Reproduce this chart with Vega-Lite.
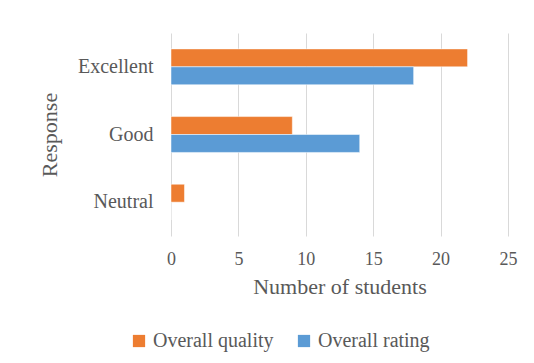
{
  "$schema": "https://vega.github.io/schema/vega-lite/v6.json",
  "width": 337,
  "height": 203,
  "autosize": {"type": "none"},
  "padding": {"left": 171, "top": 33, "right": 26, "bottom": 127},
  "background": "white",
  "config": {
    "font": "Liberation Serif, Times New Roman, DejaVu Serif, serif",
    "view": {"stroke": null},
    "axis": {"labelColor": "#595959", "titleColor": "#595959", "titleFontWeight": "normal", "labelFont": "Liberation Serif, Times New Roman, DejaVu Serif, serif", "titleFont": "Liberation Serif, Times New Roman, DejaVu Serif, serif"},
    "legend": {"labelColor": "#595959", "labelFont": "Liberation Serif, Times New Roman, DejaVu Serif, serif"}
  },
  "data": {
    "values": [
      {"Response": "Excellent", "Series": "Overall quality", "Count": 22},
      {"Response": "Excellent", "Series": "Overall rating", "Count": 18},
      {"Response": "Good", "Series": "Overall quality", "Count": 9},
      {"Response": "Good", "Series": "Overall rating", "Count": 14},
      {"Response": "Neutral", "Series": "Overall quality", "Count": 1},
      {"Response": "Neutral", "Series": "Overall rating", "Count": 0}
    ]
  },
  "mark": {"type": "bar", "stroke": "white", "strokeWidth": 0.5},
  "encoding": {
    "y": {
      "field": "Response", "type": "nominal",
      "sort": ["Excellent", "Good", "Neutral"],
      "scale": {"paddingInner": 0.47, "paddingOuter": 0.235},
      "axis": {"title": "Response", "titleFontSize": 22, "labelFontSize": 20, "ticks": false, "domain": false, "labelPadding": 18, "titlePadding": 16}
    },
    "yOffset": {"field": "Series", "type": "nominal", "sort": ["Overall quality", "Overall rating"]},
    "x": {
      "field": "Count", "type": "quantitative",
      "scale": {"domain": [0, 25]},
      "axis": {"title": "Number of students", "values": [0, 5, 10, 15, 20, 25], "labelFlush": false, "titleFontSize": 22, "labelFontSize": 18, "ticks": false, "domain": false, "grid": true, "gridColor": "#d9d9d9", "labelPadding": 14, "titlePadding": 8}
    },
    "color": {
      "field": "Series", "type": "nominal",
      "scale": {"domain": ["Overall quality", "Overall rating"], "range": ["#ED7D31", "#5B9BD5"]},
      "legend": {"title": null, "orient": "none", "direction": "horizontal", "legendX": -42, "legendY": 298, "symbolType": "square", "symbolSize": 150, "symbolStrokeWidth": 0, "labelFontSize": 20, "columnPadding": 20, "labelOffset": 4}
    }
  }
}
